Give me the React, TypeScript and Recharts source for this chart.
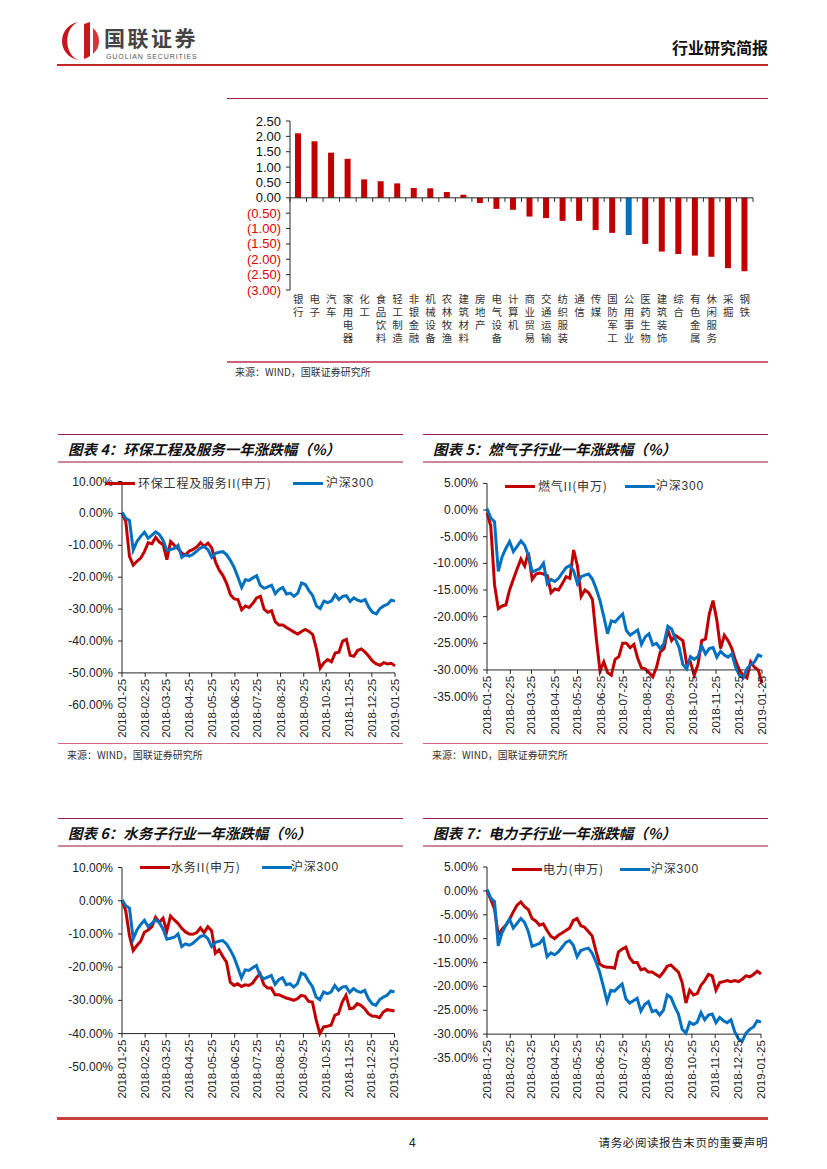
import React from "react";
import { BarChart, Bar, Cell, LineChart, Line, XAxis, YAxis, ReferenceLine } from "recharts";

// 申万一级行业 周涨跌幅
const industries = [
  "银行", "电子", "汽车", "家用电器", "化工", "食品饮料", "轻工制造", "非银金融", "机械设备", "农林牧渔",
  "建筑材料", "房地产", "电气设备", "计算机", "商业贸易", "交通运输", "纺织服装", "通信", "传媒", "国防军工",
  "公用事业", "医药生物", "建筑装饰", "综合", "有色金属", "休闲服务", "采掘", "钢铁",
];
const industryChange = [
  2.1, 1.84, 1.47, 1.27, 0.6, 0.54, 0.47, 0.32, 0.31, 0.19,
  0.1, -0.17, -0.36, -0.39, -0.61, -0.66, -0.75, -0.75, -1.05, -1.14,
  -1.21, -1.5, -1.75, -1.83, -1.88, -1.92, -2.29, -2.39,
];
const highlightIndustry = "公用事业";
const barTicks = [2.5, 2, 1.5, 1, 0.5, 0, -0.5, -1, -1.5, -2, -2.5, -3];

// sampled every 5 calendar days
const tradeDates = [
  "2018-01-25", "2018-01-30", "2018-02-04", "2018-02-09", "2018-02-14", "2018-02-19", "2018-02-24", "2018-03-01",
  "2018-03-06", "2018-03-11", "2018-03-16", "2018-03-21", "2018-03-26", "2018-03-31", "2018-04-05", "2018-04-10",
  "2018-04-15", "2018-04-20", "2018-04-25", "2018-04-30", "2018-05-05", "2018-05-10", "2018-05-15", "2018-05-20",
  "2018-05-25", "2018-05-30", "2018-06-04", "2018-06-09", "2018-06-14", "2018-06-19", "2018-06-24", "2018-06-29",
  "2018-07-04", "2018-07-09", "2018-07-14", "2018-07-19", "2018-07-24", "2018-07-29", "2018-08-03", "2018-08-08",
  "2018-08-13", "2018-08-18", "2018-08-23", "2018-08-28", "2018-09-02", "2018-09-07", "2018-09-12", "2018-09-17",
  "2018-09-22", "2018-09-27", "2018-10-02", "2018-10-07", "2018-10-12", "2018-10-17", "2018-10-22", "2018-10-27",
  "2018-11-01", "2018-11-06", "2018-11-11", "2018-11-16", "2018-11-21", "2018-11-26", "2018-12-01", "2018-12-06",
  "2018-12-11", "2018-12-16", "2018-12-21", "2018-12-26", "2018-12-31", "2019-01-05", "2019-01-10", "2019-01-15",
  "2019-01-20", "2019-01-25",
];
const hs300 = [
  0.3, -1.5, -2.2, -11.5, -8.8, -7.2, -5.9, -7.8, -6.8, -5.8, -6.6, -8.5, -11.6, -11.3, -11.0, -10.0,
  -13.8, -13.0, -13.4, -12.8, -11.8, -10.8, -10.4, -11.4, -13.8, -12.5, -12.2, -12.0, -13.0, -14.8, -17.0, -20.0,
  -23.2, -20.8, -21.0, -20.2, -19.5, -22.6, -23.5, -23.0, -22.5, -25.2, -23.8, -23.2, -25.3, -25.0, -26.0, -25.0,
  -21.8, -22.3, -24.2, -25.8, -29.0, -29.8, -27.5, -28.0, -27.5, -25.5, -27.0, -26.0, -25.8, -27.6, -26.5, -27.2,
  -27.6, -27.0, -29.5, -31.0, -31.5, -29.8, -29.0, -28.5, -27.2, -27.5,
];
const envService = [
  0, -2.5, -13.5, -16.2, -15.0, -14.0, -12.0, -9.2, -9.5, -7.5, -9.0, -9.8, -14.5, -8.8, -10.0, -11.0,
  -12.5, -13.0, -11.8, -11.3, -10.5, -9.2, -10.3, -9.3, -10.8, -15.2, -17.8, -19.5, -22.0, -25.5, -26.8, -27.0,
  -30.2, -29.0, -29.5, -28.2, -26.5, -26.0, -30.0, -31.0, -30.5, -34.0, -35.0, -35.0, -35.8, -36.5, -37.2, -37.8,
  -37.0, -36.4, -37.0, -38.0, -42.5, -48.5, -46.8, -45.8, -46.5, -43.8, -43.5, -40.0, -39.5, -44.5, -44.8, -43.0,
  -42.5, -43.5, -44.8, -46.3, -47.2, -47.6, -46.8, -47.2, -47.0, -47.8,
];
const gasSector = [
  -0.5, -3.0, -14.0, -18.5, -18.0, -17.8, -15.0, -13.0, -11.0, -9.2, -10.5, -8.0, -13.0, -12.0, -11.8, -12.0,
  -12.3, -15.5, -14.8, -15.0, -13.8, -12.5, -12.8, -7.5, -10.5, -16.2, -15.0, -15.5, -16.8, -24.0, -30.2, -28.5,
  -30.5, -31.0, -28.0, -27.5, -25.0, -25.0, -25.8, -25.2, -27.8, -29.6, -29.8, -30.5, -31.3, -29.5, -26.6, -26.0,
  -22.5, -24.5, -23.5, -24.0, -24.5, -28.8, -28.5, -31.0, -29.0, -24.5, -24.2, -19.5, -17.0, -20.6, -26.0, -23.5,
  -24.5, -26.0, -28.3, -30.0, -31.0, -31.5, -28.5, -29.5, -30.0, -32.5,
];
const waterSector = [
  0, -3.0, -10.5, -15.0, -13.5, -12.2, -9.5, -8.8, -7.8, -5.0, -6.5, -5.3, -9.2, -4.6, -5.8, -6.8,
  -8.3, -9.4, -10.0, -10.1, -9.6, -8.2, -9.6, -7.8, -9.0, -15.8, -14.8, -16.8, -18.5, -24.5, -25.5, -25.0,
  -25.8, -25.3, -25.5, -24.8, -23.2, -22.0, -25.3, -26.3, -26.3, -28.3, -28.3, -28.8, -29.3, -29.6, -30.0, -29.5,
  -28.5, -28.8, -30.3, -30.5, -35.8, -40.0, -38.0, -37.8, -37.5, -34.5, -34.0, -30.5, -28.5, -32.5, -32.3, -31.0,
  -31.5, -32.5, -34.0, -34.7, -34.8, -35.2, -33.5, -32.8, -33.0, -33.2,
];
const powerSector = [
  0, -1.8, -3.8, -9.2, -8.0, -7.2, -6.0, -4.4, -3.0, -2.3, -3.3, -3.9, -5.8, -6.3, -7.2, -6.9,
  -8.3, -9.5, -10.0, -9.3, -8.8, -8.3, -7.8, -6.2, -5.8, -7.3, -7.6, -8.5, -9.4, -12.5, -15.3, -15.8,
  -16.0, -16.0, -16.2, -12.8, -12.2, -11.8, -14.0, -15.0, -15.0, -16.5, -16.3, -17.0, -17.0, -17.5, -18.0, -17.0,
  -15.8, -15.5, -16.3, -17.0, -19.2, -23.5, -20.8, -21.8, -21.5, -19.8, -18.8, -17.5, -17.8, -20.8, -19.2, -19.0,
  -18.8, -19.0, -18.8, -19.0, -18.5, -17.8, -18.0, -17.5, -16.8, -17.4,
];
const monthTicks = [
  "2018-01-25", "2018-02-25", "2018-03-25", "2018-04-25", "2018-05-25", "2018-06-25", "2018-07-25",
  "2018-08-25", "2018-09-25", "2018-10-25", "2018-11-25", "2018-12-25", "2019-01-25",
];
const ticksTen = [10, 0, -10, -20, -30, -40, -50, -60];
const ticksWater = [10, 0, -10, -20, -30, -40, -50];
const ticksFive = [5, 0, -5, -10, -15, -20, -25, -30, -35];

const RED = "#C00000";
const BLUE = "#0070C0";
const AXIS = "#262626";
const LATIN = '"Liberation Sans", "Noto Sans CJK SC", sans-serif';
const CJK = '"Noto Sans CJK SC", "Liberation Sans", sans-serif';
const X_H = 10;

const toTs = (d: string) => Date.parse(`${d}T00:00:00Z`);
const fmtDate = (t: number) => new Date(t).toISOString().slice(0, 10);
const T0 = toTs(tradeDates[0]);
const T1 = toTs(tradeDates[tradeDates.length - 1]);

const Rule = ({ x, y, w, h, c }: { x: number; y: number; w: number; h: number; c: string }) => (
  <div style={{ position: "absolute", left: x, top: y, width: w, height: h, background: c }} />
);

const Label = ({ x, y, size, children, style }: any) => (
  <div
    style={{
      position: "absolute", left: x, top: y - size * 0.6, fontSize: size, lineHeight: `${size * 1.2}px`,
      whiteSpace: "nowrap", color: "#222", ...style,
    }}
  >
    {children}
  </div>
);

type Geo = { left: number; right: number; top: number; bottom: number };

function PerfChart(props: {
  colLeft: number; boxTop: number; boxH: number; plot: Geo; ticks: number[]; cross: number;
  sector: number[]; sectorName: string; legendY: number; legendX: [number, number, number, number];
}) {
  const { colLeft, boxTop, boxH, plot, ticks, cross, sector, sectorName, legendY, legendX } = props;
  const W = 345;
  const rows = tradeDates.map((d, i) => ({ t: toTs(d), sector: sector[i], hs300: hs300[i] }));
  const yMax = ticks[0];
  const yMin = ticks[ticks.length - 1];
  const yAxisW = plot.left - colLeft;
  const top = plot.top - boxTop;
  const right = colLeft + W - plot.right;
  const plotH = plot.bottom - plot.top;
  const bottom = boxH - (plot.bottom - boxTop) - X_H;
  const crossY = top + ((yMax - cross) / (yMax - yMin)) * plotH;

  const dateTick = (p: any) => (
    <g>
      <line x1={p.x} x2={p.x} y1={crossY} y2={crossY + 4} stroke={AXIS} />
      <text
        x={p.x} y={crossY + 6} transform={`rotate(-90 ${p.x} ${crossY + 6})`} textAnchor="end"
        dominantBaseline="central" fontSize={11.5} fontFamily={LATIN} fill="#222"
      >
        {fmtDate(p.payload.value)}
      </text>
    </g>
  );
  const pctTick = (p: any) => (
    <g>
      {p.payload.value >= cross && <line x1={yAxisW - 4} x2={yAxisW} y1={p.y} y2={p.y} stroke={AXIS} />}
      <text x={yAxisW - 9} y={p.y} textAnchor="end" dominantBaseline="central" fontSize={12} fontFamily={LATIN} fill="#222">
        {`${p.payload.value.toFixed(2)}%`}
      </text>
    </g>
  );

  return (
    <>
      <div style={{ position: "absolute", left: colLeft, top: boxTop }}>
        <LineChart width={W} height={boxH} data={rows} margin={{ top, right, bottom, left: 0 }}>
          <XAxis
            type="number" dataKey="t" domain={[T0, T1]} ticks={monthTicks.map(toTs)} interval={0}
            height={X_H} axisLine={false} tickLine={false} tick={dateTick}
          />
          <YAxis
            type="number" domain={[yMin, yMax]} ticks={ticks} interval={0} width={yAxisW}
            axisLine={false} tickLine={false} tick={pctTick}
          />
          <ReferenceLine y={cross} stroke={AXIS} />
          <ReferenceLine segment={[{ x: T0, y: yMax }, { x: T0, y: cross }]} stroke={AXIS} />
          <Line type="linear" dataKey="sector" stroke={RED} strokeWidth={3} dot={false} isAnimationActive={false} />
          <Line type="linear" dataKey="hs300" stroke={BLUE} strokeWidth={3} dot={false} isAnimationActive={false} />
        </LineChart>
      </div>
      <Rule x={legendX[0]} y={legendY - 1.5} w={30} h={3} c={RED} />
      <Label x={legendX[1]} y={legendY} size={12} style={{ letterSpacing: 0.8, color: "#333" }}>{sectorName}</Label>
      <Rule x={legendX[2]} y={legendY - 1.5} w={30} h={3} c={BLUE} />
      <Label x={legendX[3]} y={legendY} size={12} style={{ letterSpacing: 0.8, color: "#333", fontFamily: LATIN }}>沪深300</Label>
    </>
  );
}

function SectionFrame({ colLeft, lineTop, title, sourceLine }: { colLeft: number; lineTop: number; title: string; sourceLine?: number }) {
  return (
    <>
      <Rule x={colLeft} y={lineTop} w={345} h={1.3} c="#9E1E45" />
      <Label x={colLeft + 10} y={lineTop + 14.5} size={14.5} style={{ fontWeight: 700, fontStyle: "italic", color: "#111" }}>
        {title}
      </Label>
      <Rule x={colLeft} y={lineTop + 26.5} w={345} h={2} c="#C98A9B" />
      {sourceLine !== undefined && (
        <>
          <Rule x={colLeft} y={sourceLine} w={345} h={1.5} c="#D06A84" />
          <Label x={colLeft + 9} y={sourceLine + 12} size={10} style={{ color: "#333" }}>来源：WIND，国联证券研究所</Label>
        </>
      )}
    </>
  );
}

function IndustryBars() {
  const rows = industries.map((name, i) => ({ name, value: industryChange[i] }));
  const plotTop = 16;
  const plotH = 169;
  const zeroY = plotTop + (2.5 / 5.5) * plotH;
  const band = 463 / industries.length;
  const catTick = (p: any) => {
    const chars = Array.from(String(p.payload.value));
    return (
      <g>
        <line x1={p.x - band / 2} x2={p.x - band / 2} y1={zeroY} y2={zeroY + 4} stroke={AXIS} />
        {p.index === industries.length - 1 && (
          <line x1={p.x + band / 2} x2={p.x + band / 2} y1={zeroY} y2={zeroY + 4} stroke={AXIS} />
        )}
        <text x={p.x} y={plotTop + plotH + 13} textAnchor="middle" fontSize={10.5} fill="#333" fontFamily={CJK}>
          {chars.map((c, i) => (
            <tspan key={i} x={p.x} dy={i === 0 ? 0 : 13}>
              {c}
            </tspan>
          ))}
        </text>
      </g>
    );
  };
  const valTick = (p: any) => {
    const v = p.payload.value;
    return (
      <text x={54} y={p.y} textAnchor="end" dominantBaseline="central" fontSize={13} fontFamily={LATIN} fill={v < 0 ? "#E00000" : "#111"}>
        {v < 0 ? `(${Math.abs(v).toFixed(2)})` : v.toFixed(2)}
      </text>
    );
  };
  return (
    <div style={{ position: "absolute", left: 227, top: 105 }}>
      <BarChart width={541} height={255} data={rows} margin={{ top: plotTop, right: 15, bottom: 0, left: 0 }}>
        <XAxis dataKey="name" interval={0} height={70} axisLine={false} tickLine={false} tick={catTick} />
        <YAxis
          type="number" domain={[-3, 2.5]} ticks={barTicks} interval={0} width={63}
          axisLine={{ stroke: AXIS }} tickLine={{ stroke: AXIS }} tickSize={4} tick={valTick}
        />
        <ReferenceLine y={0} stroke={AXIS} />
        <Bar dataKey="value" barSize={6} isAnimationActive={false}>
          {rows.map((r) => (
            <Cell key={r.name} fill={r.name === highlightIndustry ? BLUE : RED} />
          ))}
        </Bar>
      </BarChart>
    </div>
  );
}

function Logo() {
  return (
    <>
      <svg width={40} height={42} style={{ position: "absolute", left: 60, top: 20 }}>
        <path d="M20 2 A19 19 0 1 0 22 40 A13 18 0 0 1 20 2 Z" fill="#C8161D" />
        <path d="M24 4 L30 2 L30 36 A17 17 0 0 1 24 39 Z" fill="#C8161D" />
        <path d="M33 8 A17 17 0 0 1 33 34 Z" fill="#D9343A" />
        <rect x={17} y={14} width={2.5} height={24} fill="#fff" />
        <rect x={21.5} y={9} width={2.5} height={30} fill="#fff" />
      </svg>
      <Label x={104} y={37.5} size={21} style={{ fontWeight: 700, color: "#444", letterSpacing: 2.5 }}>国联证券</Label>
      <Label x={106} y={57} size={7} style={{ fontFamily: LATIN, color: "#555", letterSpacing: 0.9 }}>GUOLIAN SECURITIES</Label>
    </>
  );
}

export default function App() {
  return (
    <div
      style={{
        position: "absolute", left: 0, top: 0, width: 827, height: 1169, background: "#fff",
        overflow: "hidden", fontFamily: CJK,
      }}
    >
      <style>{`.recharts-surface{overflow:visible}`}</style>
      <Logo />
      <Label x={0} y={48} size={16} style={{ left: "auto", right: 59, fontWeight: 700, color: "#111" }}>行业研究简报</Label>
      <Rule x={57} y={64} w={711} h={2.2} c="#C0282D" />

      <Rule x={227} y={98} w={541} h={1.2} c="#A0183C" />
      <IndustryBars />
      <Rule x={227} y={361} w={541} h={1.5} c="#D36079" />
      <Label x={235} y={372} size={10} style={{ color: "#333" }}>来源：WIND，国联证券研究所</Label>

      <SectionFrame colLeft={58} lineTop={434} title="图表 4：环保工程及服务一年涨跌幅（%）" sourceLine={742.5} />
      <SectionFrame colLeft={423} lineTop={434} title="图表 5：燃气子行业一年涨跌幅（%）" sourceLine={742.5} />
      <PerfChart
        colLeft={58} boxTop={462} boxH={280} plot={{ left: 122, right: 395, top: 481.5, bottom: 704.8 }}
        ticks={ticksTen} cross={-50} sector={envService} sectorName="环保工程及服务II(申万)"
        legendY={483} legendX={[105, 138, 293, 326]}
      />
      <PerfChart
        colLeft={423} boxTop={462} boxH={280} plot={{ left: 487, right: 762, top: 483.4, bottom: 696.6 }}
        ticks={ticksFive} cross={-30} sector={gasSector} sectorName="燃气II(申万)"
        legendY={486} legendX={[505, 538, 625, 656]}
      />

      <SectionFrame colLeft={58} lineTop={818} title="图表 6：水务子行业一年涨跌幅（%）" />
      <SectionFrame colLeft={423} lineTop={818} title="图表 7：电力子行业一年涨跌幅（%）" />
      <PerfChart
        colLeft={58} boxTop={846} boxH={264} plot={{ left: 122, right: 394.5, top: 867.5, bottom: 1066.8 }}
        ticks={ticksWater} cross={-40} sector={waterSector} sectorName="水务II(申万)"
        legendY={867} legendX={[140, 171, 262, 291]}
      />
      <PerfChart
        colLeft={423} boxTop={846} boxH={264} plot={{ left: 487, right: 761, top: 867, bottom: 1058 }}
        ticks={ticksFive} cross={-30} sector={powerSector} sectorName="电力(申万)"
        legendY={869} legendX={[512, 543, 620, 651]}
      />

      <Rule x={57} y={1117} w={711} h={3} c="#C8413D" />
      <Label x={409} y={1143} size={12} style={{ fontFamily: LATIN }}>4</Label>
      <Label x={0} y={1143} size={11.5} style={{ left: "auto", right: 59, letterSpacing: 0.6, color: "#222" }}>
        请务必阅读报告末页的重要声明
      </Label>
    </div>
  );
}
